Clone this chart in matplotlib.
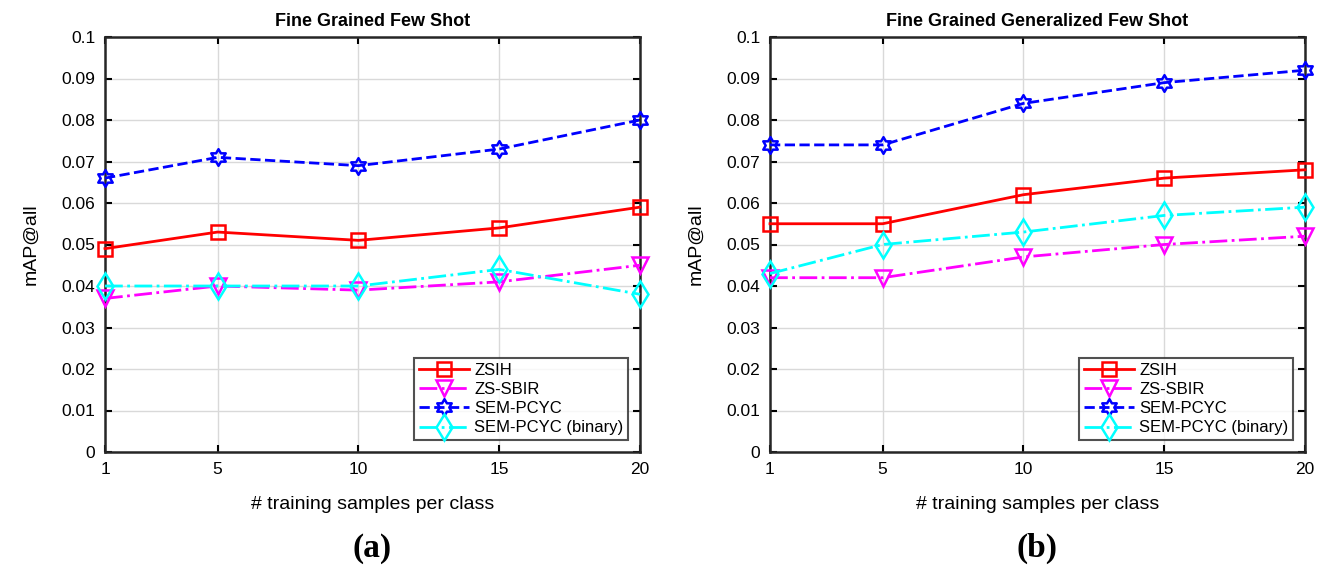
import numpy as np
import matplotlib
matplotlib.use("Agg")
import matplotlib.pyplot as plt
from matplotlib.path import Path

x_vals = [1, 5, 10, 15, 20]
series_names = ["ZSIH", "ZS-SBIR", "SEM-PCYC", "SEM-PCYC (binary)"]

zsih_a = [0.049, 0.053, 0.051, 0.054, 0.059]
zssbir_a = [0.037, 0.040, 0.039, 0.041, 0.045]
sempcyc_a = [0.066, 0.071, 0.069, 0.073, 0.080]
binary_a = [0.040, 0.040, 0.040, 0.044, 0.038]

zsih_b = [0.055, 0.055, 0.062, 0.066, 0.068]
zssbir_b = [0.042, 0.042, 0.047, 0.050, 0.052]
sempcyc_b = [0.074, 0.074, 0.084, 0.089, 0.092]
binary_b = [0.043, 0.050, 0.053, 0.057, 0.059]

titles = ["Fine Grained Few Shot", "Fine Grained Generalized Few Shot"]
panel_labels = ["(a)", "(b)"]
y_ticks = [0, 0.01, 0.02, 0.03, 0.04, 0.05, 0.06, 0.07, 0.08, 0.09, 0.1]
y_tick_labels = ["0", "0.01", "0.02", "0.03", "0.04", "0.05", "0.06", "0.07", "0.08", "0.09", "0.1"]

# hexagram marker
ang = np.deg2rad(np.arange(12) * 30 + 90)
r = np.where(np.arange(12) % 2 == 0, 1.0, 1.0 / np.sqrt(3))
verts = np.column_stack([r * np.cos(ang), r * np.sin(ang)])
verts = np.vstack([verts, verts[:1]])
codes = [Path.MOVETO] + [Path.LINETO] * 11 + [Path.CLOSEPOLY]
hexagram = Path(verts, codes)

styles = [
    dict(color="#ff0000", linestyle="-", marker="s", markersize=10),
    dict(color="#ff00ff", linestyle="-.", marker="v", markersize=11),
    dict(color="#0000ff", linestyle="--", marker=hexagram, markersize=12),
    dict(color="#00ffff", linestyle="-.", marker="d", markersize=13),
]

plt.rcParams["font.family"] = ["Liberation Sans", "DejaVu Sans"]

fig = plt.figure(figsize=(13.2, 5.71), dpi=100)
positions = [[105 / 1320, 1 - 452 / 571, 535 / 1320, 415 / 571],
             [770 / 1320, 1 - 452 / 571, 535 / 1320, 415 / 571]]
data = [[zsih_a, zssbir_a, sempcyc_a, binary_a],
        [zsih_b, zssbir_b, sempcyc_b, binary_b]]

for i in range(2):
    ax = fig.add_axes(positions[i])
    for name, vals, st in zip(series_names, data[i], styles):
        ax.plot(x_vals, vals, label=name, linewidth=2, markerfacecolor="none",
                markeredgewidth=1.8, clip_on=False, zorder=3, **st)
    ax.set_xlim(1, 20)
    ax.set_ylim(0, 0.1)
    ax.set_xticks(x_vals)
    ax.set_xticklabels([str(v) for v in x_vals])
    ax.set_yticks(y_ticks)
    ax.set_yticklabels(y_tick_labels)
    ax.grid(True, color="#d9d9d9", linewidth=1)
    ax.tick_params(direction="in", top=True, right=True, length=5, width=1.5,
                   labelsize=12.5, pad=7)
    for s in ax.spines.values():
        s.set_linewidth(1.8)
        s.set_color("#262626")
    ax.set_title(titles[i], fontsize=13, fontweight="bold", pad=8)
    ax.set_ylabel("mAP@all", fontsize=14, labelpad=16)
    ax.set_xlabel("# training samples per class", fontsize=14, labelpad=14)
    leg = ax.legend(loc="lower right", fontsize=12, frameon=True, fancybox=False,
                    edgecolor="#262626", borderpad=0.3, labelspacing=0.25,
                    handlelength=3.0, handletextpad=0.3, borderaxespad=0.7)
    leg.get_frame().set_linewidth(1.5)
    leg.set_zorder(5)
    fig.text(positions[i][0] + positions[i][2] / 2, 1 - 548 / 571, panel_labels[i],
             ha="center", va="center", fontsize=24, fontweight="bold",
             family=["Liberation Serif", "DejaVu Serif"])

fig.savefig("out.png", dpi=100)
